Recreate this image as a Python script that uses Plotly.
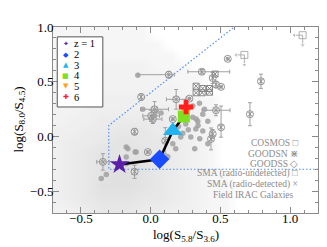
import plotly.graph_objects as go

# ---------------- data ----------------
# Redshift track (z = 1..6)
track_labels = ["z = 1", "2", "3", "4", "5", "6"]
track_x = [-0.223, 0.064, 0.159, 0.238, 0.254, 0.254]
track_y = [-0.257, -0.209, 0.052, 0.182, 0.248, 0.269]
track_colors = ["#5b1fa8", "#1a4cff", "#22b4f0", "#7fe020", "#ffa41a", "#ff1f1f"]
track_symbols = ["star", "diamond", "triangle-up", "square", "triangle-down", "cross"]
track_sizes = [15, 15, 17, 12, 13, 12]
legend_glyphs = ["\u2726", "\u25c6", "\u25b2", "\u25a0", "\u25bc", "\u271a"]

# AGN selection wedge (dotted blue)
wedge_x = [1.2, -0.3, -0.3, 0.6]
wedge_y = [-0.3, -0.3, 0.1, 1.0]

# Field IRAC galaxies: estimated relative density on a 0.1-dex grid
field_xc = [-0.65, -0.55, -0.45, -0.35, -0.25, -0.15, -0.05, 0.05, 0.15, 0.25,
            0.35, 0.45, 0.55, 0.65, 0.75, 0.85, 0.95, 1.05, 1.15]
field_yc = [-0.65, -0.55, -0.45, -0.35, -0.25, -0.15, -0.05, 0.05, 0.15,
            0.25, 0.35, 0.45, 0.55, 0.65, 0.75, 0.85, 0.95]
field_density = [
    [2, 3, 4, 5, 5, 5, 4, 4, 3, 3, 2, 1, 1, 0, 0, 0, 0, 0, 0],
    [3, 4, 5, 6, 6, 6, 5, 5, 4, 3, 2, 1, 1, 0, 0, 0, 0, 0, 0],
    [3, 4, 5, 7, 7, 7, 6, 5, 4, 3, 2, 1, 1, 0, 0, 0, 0, 0, 0],
    [3, 4, 5, 6, 7, 7, 6, 5, 4, 3, 2, 1, 1, 0, 0, 0, 0, 0, 0],
    [3, 4, 5, 6, 7, 7, 6, 5, 4, 3, 2, 1, 0, 0, 0, 0, 0, 0, 0],
    [3, 4, 5, 6, 6, 6, 6, 5, 4, 3, 2, 1, 0, 0, 0, 0, 0, 0, 0],
    [3, 4, 4, 5, 6, 6, 5, 5, 4, 3, 2, 1, 0, 0, 0, 0, 0, 0, 0],
    [3, 3, 4, 4, 5, 5, 5, 4, 4, 3, 2, 1, 0, 0, 0, 0, 0, 0, 0],
    [2, 3, 3, 4, 4, 4, 4, 4, 3, 3, 2, 1, 0, 0, 0, 0, 0, 0, 0],
    [2, 2, 3, 3, 3, 3, 3, 3, 3, 2, 2, 1, 0, 0, 0, 0, 0, 0, 0],
    [2, 2, 2, 3, 3, 3, 3, 2, 2, 2, 1, 1, 0, 0, 0, 0, 0, 0, 0],
    [2, 2, 2, 2, 2, 2, 2, 2, 2, 1, 1, 0, 0, 0, 0, 0, 0, 0, 0],
    [1, 2, 2, 2, 2, 2, 2, 2, 1, 1, 1, 0, 0, 0, 0, 0, 0, 0, 0],
    [1, 1, 1, 2, 2, 2, 2, 1, 1, 1, 0, 0, 0, 0, 0, 0, 0, 0, 0],
    [1, 1, 1, 1, 1, 1, 1, 1, 1, 0, 0, 0, 0, 0, 0, 0, 0, 0, 0],
    [1, 1, 1, 1, 1, 1, 1, 1, 0, 0, 0, 0, 0, 0, 0, 0, 0, 0, 0],
    [1, 1, 1, 1, 1, 1, 1, 0, 0, 0, 0, 0, 0, 0, 0, 0, 0, 0, 0],
]

# SMGs with error bars (circled symbols)
smg_x = [0.130, 0.367, 0.553, 0.445, 0.469, 0.791, 0.712, -0.068, 0.183, 0.278,
         0.469, 0.505, 0.028, 0.004, -0.115, 0.016, 0.105, -0.115, -0.342, -0.020,
         0.433, 0.445, 0.159, 0.505]
smg_y = [0.564, 0.591, 0.709, 0.534, 0.474, 0.504, 0.203, 0.360, 0.339, 0.345,
         0.239, 0.083, 0.248, 0.188, 0.043, 0.158, -0.040, -0.323, -0.233, -0.143,
         -0.023, 0.023, 0.158, 0.453]
smg_xerr_lo = [0.22, 0.10, 0, 0, 0, 0, 0, 0, 0.07, 0, 0.10, 0, 0.10, 0.06, 0, 0.065,
               0, 0, 0.045, 0, 0, 0, 0, 0]
smg_xerr_hi = [0.04, 0.20, 0, 0, 0, 0, 0, 0, 0.07, 0, 0.10, 0, 0.10, 0.06, 0, 0.065,
               0, 0, 0.045, 0, 0, 0, 0, 0]
smg_yerr_lo = [0.03, 0.02, 0, 0.05, 0.03, 0.065, 0.105, 0.03, 0.09, 0, 0.05, 0.09,
               0.07, 0.05, 0.03, 0.04, 0.12, 0.06, 0.075, 0, 0.10, 0.04, 0, 0]
smg_yerr_hi = [0.03, 0.02, 0, 0.05, 0.03, 0.065, 0.105, 0.03, 0.09, 0, 0.05, 0.195,
               0.07, 0.05, 0.03, 0.04, 0.12, 0.06, 0.075, 0, 0.10, 0.04, 0, 0]

# Filled gray points
dot_x = [-0.092, -0.056, 0.302, 0.338, 0.374, 0.410, 0.324, 0.374, 0.288, 0.352,
         0.410, 0.316, 0.252, 0.216, 0.180, 0.123, -0.175, -0.104, -0.175, -0.354,
         -0.318, -0.175, -0.163, 0.135, 0.159, 0.302, 0.350, 0.386, 0.326, 0.040,
         0.075, 0.028, -0.111, 0.270, 0.230, 0.200, 0.340]
dot_y = [0.560, 0.248, 0.176, 0.139, 0.203, 0.139, 0.068, 0.050, -0.005, -0.022,
         -0.068, -0.113, 0.113, -0.005, -0.113, -0.185, -0.097, -0.143, -0.188, -0.384,
         -0.348, -0.250, -0.113, 0.038, -0.068, 0.278, 0.302, 0.248, 0.158, 0.230,
         0.215, 0.190, -0.143, 0.060, 0.030, 0.090, 0.100]

# Square-shaped sources
sq_x = [0.326, 0.374, 0.422, 0.369, 0.422, 0.326, 0.462]
sq_y = [0.459, 0.438, 0.438, 0.399, 0.404, 0.399, 0.570]

# Upper limits (arrows left and down)
lim_x = [0.672, 1.090]
lim_y = [0.745, 0.925]
lim_dx = 0.06   # arrow length in x (dex)
lim_dy = 0.09   # arrow length in y (dex)

# Sample key text
key_texts = ["COSMOS \u25a1", "GOODSN \u22c7", "GOODSS \u25c7",
             "SMA (radio-undetected) \u25a1", "SMA (radio-detected) \u00d7",
             "Field IRAC Galaxies"]

x_title = "log(S<sub>5.8</sub>/S<sub>3.6</sub>)"
y_title = "log(S<sub>8.0</sub>/S<sub>4.5</sub>)"

# ---------------- figure ----------------
GRAY = "#959595"
LIM = "#b0b0b0"
SERIF = "Liberation Serif, Times New Roman, serif"
fig = go.Figure()

fig.add_trace(go.Heatmap(
    x=field_xc, y=field_yc, z=field_density, zsmooth="best", showscale=False,
    colorscale=[[0, "rgba(255,255,255,0)"], [0.15, "#f6f6f6"], [1, "#e0e0e0"]],
    hoverinfo="skip"))

fig.add_trace(go.Scatter(
    x=wedge_x, y=wedge_y, mode="lines",
    line=dict(color="#5090f5", width=1.2, dash="1.5px,2px"), showlegend=False))

fig.add_trace(go.Scatter(
    x=smg_x, y=smg_y, mode="markers",
    marker=dict(symbol="circle-x-open", size=7, color=GRAY, line=dict(width=1, color=GRAY)),
    error_x=dict(type="data", symmetric=False, array=smg_xerr_hi, arrayminus=smg_xerr_lo,
                 color="#a0a0a0", thickness=1, width=2),
    error_y=dict(type="data", symmetric=False, array=smg_yerr_hi, arrayminus=smg_yerr_lo,
                 color="#a0a0a0", thickness=1, width=2),
    showlegend=False))

fig.add_trace(go.Scatter(
    x=dot_x, y=dot_y, mode="markers",
    marker=dict(symbol="circle", size=5.5, color="#a0a0a0", opacity=0.85),
    showlegend=False))

fig.add_trace(go.Scatter(
    x=sq_x, y=sq_y, mode="markers",
    marker=dict(symbol="square-x-open", size=6, color="#888888", line=dict(width=1, color="#888888")),
    showlegend=False))

fig.add_trace(go.Scatter(
    x=lim_x, y=lim_y, mode="markers",
    marker=dict(symbol="square-open", size=7, color=LIM, line=dict(width=1, color=LIM)),
    showlegend=False))
for lx, ly in zip(lim_x, lim_y):
    fig.add_trace(go.Scatter(
        x=[lx, lx - lim_dx], y=[ly, ly], mode="lines+markers",
        line=dict(color=LIM, width=1),
        marker=dict(symbol=["circle", "triangle-left"], size=[0, 5], color=LIM),
        showlegend=False))
    fig.add_trace(go.Scatter(
        x=[lx, lx], y=[ly, ly - lim_dy], mode="lines+markers",
        line=dict(color=LIM, width=1),
        marker=dict(symbol=["circle", "triangle-down"], size=[0, 5], color=LIM),
        showlegend=False))

fig.add_trace(go.Scatter(
    x=track_x, y=track_y, mode="lines",
    line=dict(color="black", width=2.5), showlegend=False))
for i in range(len(track_x)):
    fig.add_trace(go.Scatter(
        x=[track_x[i]], y=[track_y[i]], mode="markers",
        marker=dict(symbol=track_symbols[i], size=track_sizes[i], color=track_colors[i],
                    line=dict(width=0)),
        showlegend=False))

# Custom legend box
fig.add_shape(type="rect", xref="paper", yref="paper", x0=0.016, x1=0.188, y0=0.570, y1=0.947,
              line=dict(color="#555555", width=1), fillcolor="white", layer="above")
leg_rows = [0.910, 0.852, 0.795, 0.738, 0.681, 0.623]
for i, lab in enumerate(track_labels):
    fig.add_annotation(x=0.049, y=leg_rows[i], xref="paper", yref="paper", text=legend_glyphs[i],
                       showarrow=False, xanchor="center", yanchor="middle",
                       font=dict(family="DejaVu Sans", size=7, color=track_colors[i]))
    fig.add_annotation(x=0.075, y=leg_rows[i], xref="paper", yref="paper", text=lab,
                       showarrow=False, xanchor="left", yanchor="middle", borderpad=0,
                       font=dict(family=SERIF, size=10.5, color="black"))

# Sample key (bottom right)
key_rows = [0.377, 0.319, 0.262, 0.212, 0.154, 0.097]
for i, t in enumerate(key_texts):
    fig.add_annotation(x=0.930 if i < 5 else 0.915, y=key_rows[i], xref="paper", yref="paper",
                       text=t, showarrow=False, xanchor="right", yanchor="middle", borderpad=0,
                       font=dict(family=SERIF, size=9.5, color="#8c8c8c"))

# Axis titles
fig.add_annotation(x=0.5, y=-0.122, xref="paper", yref="paper", text=x_title, showarrow=False,
                   xanchor="center", yanchor="middle", font=dict(family=SERIF, size=13, color="black"))
fig.add_annotation(x=-0.13, y=0.5, xref="paper", yref="paper", text=y_title, showarrow=False,
                   textangle=-90, xanchor="center", yanchor="middle",
                   font=dict(family=SERIF, size=13, color="black"))

axis_common = dict(
    showline=True, linecolor="#8a8a8a", linewidth=1, mirror="ticks",
    ticks="inside", ticklen=6, tickcolor="#8a8a8a", tickwidth=1,
    showgrid=False, zeroline=False,
    tickfont=dict(family=SERIF, size=13, color="black"),
    minor=dict(ticks="inside", ticklen=3, dtick=0.1, tickcolor="#8a8a8a", showgrid=False),
)
fig.update_xaxes(range=[-0.7, 1.2], dtick=0.5, tick0=0, tickformat=".1f",
                 ticklabelstandoff=-7, **axis_common)
fig.update_yaxes(range=[-0.7, 1.0], dtick=0.5, tick0=0, tickformat=".1f",
                 ticklabelstandoff=-4, **axis_common)

fig.update_layout(width=327, height=247, margin=dict(l=45, r=17, t=17, b=42),
                  plot_bgcolor="white", paper_bgcolor="white", showlegend=False)

fig.write_html("out.html")
